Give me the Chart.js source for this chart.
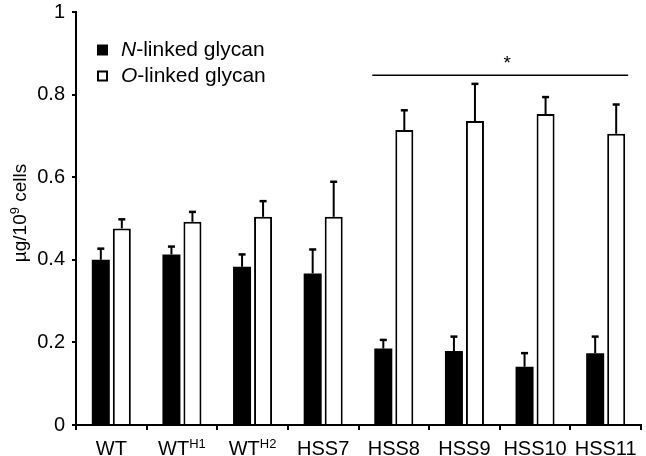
<!DOCTYPE html>
<html>
<head>
<meta charset="utf-8">
<script src="https://cdn.jsdelivr.net/npm/chart.js@4.4.0/dist/chart.umd.min.js"></script>
<style>
  html, body { margin: 0; padding: 0; background: #fff; }
</style>
</head>
<body>
<canvas id="glycanChart" width="646" height="456"></canvas>
<script>
// strain names, with superscript part kept separately
const strains = ['WT', 'WT', 'WT', 'HSS7', 'HSS8', 'HSS9', 'HSS10', 'HSS11'];
const strainSup = ['', 'H1', 'H2', '', '', '', '', ''];

// µg / 10^9 cells
const nLinked = [0.400, 0.413, 0.383, 0.367, 0.185, 0.179, 0.141, 0.174];
const nLinkedErr = [0.027, 0.019, 0.030, 0.058, 0.021, 0.035, 0.033, 0.040];
const oLinked = [0.476, 0.492, 0.504, 0.504, 0.714, 0.736, 0.753, 0.705];
const oLinkedErr = [0.022, 0.024, 0.038, 0.085, 0.048, 0.090, 0.041, 0.071];

const yTicks = [0, 0.2, 0.4, 0.6, 0.8, 1];

// significance bracket over HSS8..HSS11
const sigFrom = 4;
const sigTo = 7;
const sigLevel = 0.847;
const sigStarLevel = 0.875;
const sigLabel = '*';

const FONT = '"Liberation Sans", Arial, Helvetica, sans-serif';

const annotate = {
  id: 'annotate',
  afterDatasetsDraw(chart) {
    const ctx = chart.ctx;
    const y = chart.scales.y;
    [nLinkedErr, oLinkedErr].forEach((errs, di) => {
      const meta = chart.getDatasetMeta(di);
      meta.data.forEach((bar, i) => {
        const val = chart.data.datasets[di].data[i];
        const base = y.getPixelForValue(val);
        const top = y.getPixelForValue(val + errs[i]);
        ctx.save();
        ctx.strokeStyle = '#000';
        ctx.lineWidth = 2;
        ctx.beginPath();
        ctx.moveTo(bar.x, base);
        ctx.lineTo(bar.x, top);
        ctx.stroke();
        ctx.lineWidth = 2.5;
        ctx.beginPath();
        ctx.moveTo(bar.x - 3.5, top);
        ctx.lineTo(bar.x + 3.5, top);
        ctx.stroke();
        ctx.restore();
      });
    });
  },
  afterDraw(chart) {
    const ctx = chart.ctx;
    const x = chart.scales.x;
    const y = chart.scales.y;
    ctx.save();
    ctx.fillStyle = '#000';
    ctx.strokeStyle = '#000';

    // x labels with superscripts
    strains.forEach((name, i) => {
      const cx = x.getPixelForValue(i);
      ctx.font = '20px ' + FONT;
      const w1 = ctx.measureText(name).width;
      ctx.font = '13px ' + FONT;
      const w2 = strainSup[i] ? ctx.measureText(strainSup[i]).width : 0;
      const left = cx - (w1 + w2) / 2;
      ctx.textAlign = 'left';
      ctx.textBaseline = 'alphabetic';
      ctx.font = '20px ' + FONT;
      ctx.fillText(name, left, 455);
      if (strainSup[i]) {
        ctx.font = '13px ' + FONT;
        ctx.fillText(strainSup[i], left + w1, 448);
      }
    });

    // y title, rotated
    ctx.save();
    ctx.translate(26, 213);
    ctx.rotate(-Math.PI / 2);
    const parts = [['\u00b5g/10', 19, 0], ['9', 13, -7], [' cells', 19, 0]];
    let total = 0;
    parts.forEach(p => { ctx.font = p[1] + 'px ' + FONT; total += ctx.measureText(p[0]).width; });
    let px = -total / 2;
    ctx.textAlign = 'left';
    ctx.textBaseline = 'alphabetic';
    parts.forEach(p => {
      ctx.font = p[1] + 'px ' + FONT;
      ctx.fillText(p[0], px, p[2]);
      px += ctx.measureText(p[0]).width;
    });
    ctx.restore();

    // legend
    const legendRows = [
      { italic: 'N', rest: '-linked glycan', filled: true, y: 50 },
      { italic: 'O', rest: '-linked glycan', filled: false, y: 76 }
    ];
    legendRows.forEach(r => {
      if (r.filled) {
        ctx.fillRect(97, r.y - 5.5, 11, 11);
      } else {
        ctx.lineWidth = 2;
        ctx.strokeRect(98, r.y - 4.5, 9, 9);
      }
      ctx.textBaseline = 'middle';
      ctx.textAlign = 'left';
      ctx.font = 'italic 21px ' + FONT;
      ctx.fillText(r.italic, 121, r.y);
      const wi = ctx.measureText(r.italic).width;
      ctx.font = '21px ' + FONT;
      ctx.fillText(r.rest, 121 + wi, r.y);
    });

    // significance line and star
    const b0 = chart.getDatasetMeta(0).data[sigFrom];
    const b1 = chart.getDatasetMeta(1).data[sigTo];
    const x0 = b0.x - b0.width / 2 - 2;
    const x1 = b1.x + b1.width / 2 + 3;
    const ly = y.getPixelForValue(sigLevel);
    ctx.lineWidth = 1.5;
    ctx.beginPath();
    ctx.moveTo(x0, ly);
    ctx.lineTo(x1, ly);
    ctx.stroke();
    ctx.font = '19px ' + FONT;
    ctx.textAlign = 'center';
    ctx.textBaseline = 'middle';
    ctx.fillText(sigLabel, (x0 + x1) / 2 + 7, y.getPixelForValue(sigStarLevel));
    ctx.restore();
  }
};

new Chart(document.getElementById('glycanChart'), {
  type: 'bar',
  data: {
    labels: strains.map((s, i) => s + strainSup[i]),
    datasets: [
      {
        label: 'N-linked glycan',
        data: nLinked,
        backgroundColor: '#000',
        borderWidth: 0
      },
      {
        label: 'O-linked glycan',
        data: oLinked,
        backgroundColor: '#fff',
        borderColor: '#000',
        borderWidth: 2,
        borderSkipped: 'bottom'
      }
    ]
  },
  options: {
    responsive: false,
    animation: false,
    layout: { padding: { top: 12, right: 5, left: 0, bottom: 0 } },
    datasets: {
      bar: { categoryPercentage: 0.595, barPercentage: 0.857 }
    },
    plugins: {
      legend: { display: false },
      tooltip: { enabled: false }
    },
    scales: {
      x: {
        offset: true,
        afterFit: (scale) => { scale.height = 31; scale.paddingLeft = 0; scale.paddingRight = 0; },
        ticks: { display: true, callback: () => '' },
        grid: { display: true, drawOnChartArea: false, drawTicks: true, tickLength: 5, color: '#000', lineWidth: 2, offset: true },
        border: { display: true, color: '#000', width: 2 }
      },
      y: {
        min: 0,
        max: 1,
        afterFit: (scale) => { scale.width = 76; scale.paddingTop = 0; scale.paddingBottom = 0; },
        afterBuildTicks: (scale) => { scale.ticks = yTicks.map(v => ({ value: v })); },
        ticks: {
          padding: 7,
          color: '#000',
          font: { family: FONT, size: 20 },
          callback: (v) => String(+v.toFixed(1))
        },
        grid: { display: true, drawOnChartArea: false, drawTicks: true, tickLength: 4, color: '#000', lineWidth: 2 },
        border: { display: true, color: '#000', width: 2 }
      }
    }
  },
  plugins: [annotate]
});
</script>
</body>
</html>
